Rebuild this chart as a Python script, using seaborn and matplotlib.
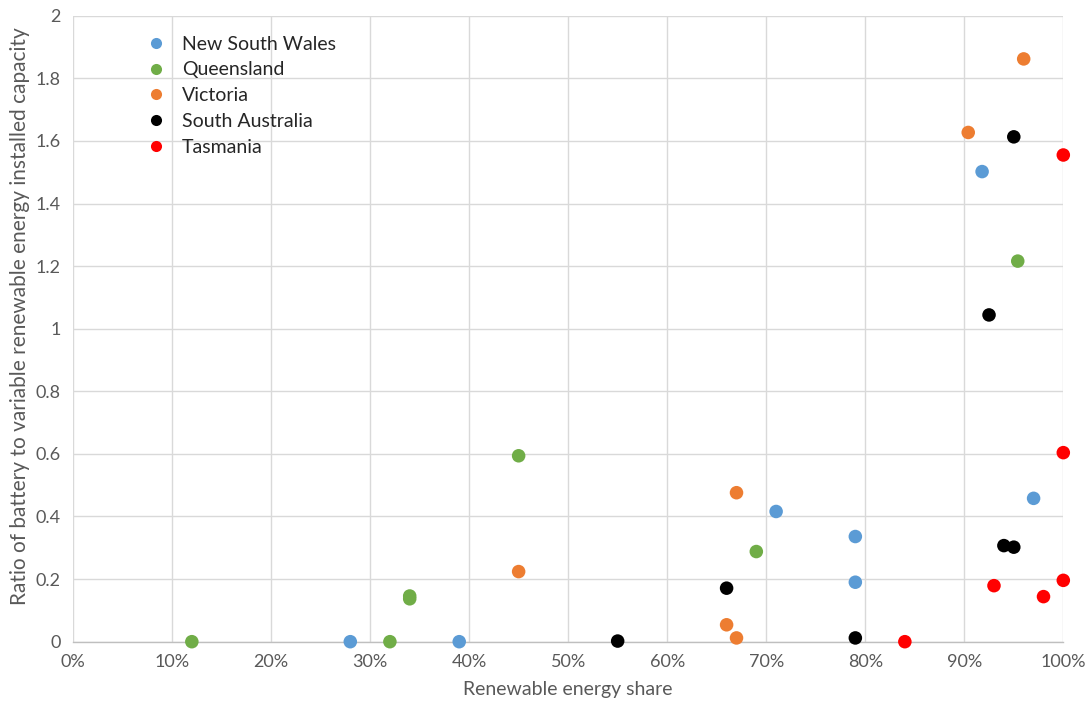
import matplotlib
matplotlib.use("Agg")
import matplotlib.pyplot as plt
import seaborn as sns
import pandas as pd
from matplotlib.lines import Line2D

# Renewable energy share (%) and battery-to-VRE capacity ratio per state
states = ["New South Wales", "Queensland", "Victoria", "South Australia", "Tasmania"]
colors = ["#5B9BD5", "#70AD47", "#ED7D31", "#000000", "#FF0000"]

nsw_share = [28, 39, 71, 79, 79, 91.8, 97]
nsw_ratio = [0.0, 0.0, 0.416, 0.336, 0.19, 1.502, 0.458]

qld_share = [12, 32, 34, 34, 45, 69, 95.4]
qld_ratio = [0.0, 0.0, 0.137, 0.146, 0.594, 0.288, 1.216]

vic_share = [45, 66, 67, 67, 90.4, 96]
vic_ratio = [0.224, 0.054, 0.012, 0.476, 1.627, 1.862]

sa_share = [55, 66, 79, 92.5, 94, 95, 95]
sa_ratio = [0.002, 0.171, 0.012, 1.044, 0.307, 0.302, 1.613]

tas_share = [84, 93, 98, 100, 100, 100]
tas_ratio = [0.0, 0.179, 0.144, 0.196, 0.604, 1.555]

x_ticks = [0, 10, 20, 30, 40, 50, 60, 70, 80, 90, 100]
x_tick_labels = [f"{t}%" for t in x_ticks]
y_ticks = [0, 0.2, 0.4, 0.6, 0.8, 1, 1.2, 1.4, 1.6, 1.8, 2]
y_tick_labels = ["0", "0.2", "0.4", "0.6", "0.8", "1", "1.2", "1.4", "1.6", "1.8", "2"]

frames = []
for name, xs, ys in zip(states,
                        [nsw_share, qld_share, vic_share, sa_share, tas_share],
                        [nsw_ratio, qld_ratio, vic_ratio, sa_ratio, tas_ratio]):
    frames.append(pd.DataFrame({"share": xs, "ratio": ys, "state": name}))
df = pd.concat(frames, ignore_index=True)

sns.set_theme(style="white")
plt.rcParams["font.family"] = ["Lato", "DejaVu Sans"]

fig = plt.figure(figsize=(10.88, 7.05), dpi=100)
ax = fig.add_axes([0.0671, 0.0898, 0.9102, 0.8879])

grid_c = "#D9D9D9"
text_c = "#595959"

sns.scatterplot(data=df, x="share", y="ratio", hue="state", hue_order=states,
                palette=dict(zip(states, colors)), s=95, linewidth=0,
                ax=ax, legend=False, clip_on=False, zorder=3)

ax.set_xlim(0, 100)
ax.set_ylim(0, 2)
ax.set_xticks(x_ticks)
ax.set_xticklabels(x_tick_labels)
ax.set_yticks(y_ticks)
ax.set_yticklabels(y_tick_labels)
ax.grid(True, color=grid_c, linewidth=1.0, zorder=0)
ax.set_axisbelow(True)
for side in ["top", "right", "left"]:
    ax.spines[side].set_visible(False)
ax.spines["bottom"].set_color("#BFBFBF")
ax.spines["bottom"].set_linewidth(1.0)
ax.tick_params(axis="both", length=0, labelsize=13, colors=text_c, pad=9)

ax.set_xlabel("Renewable energy share", fontsize=14, color=text_c, labelpad=8)
ax.set_ylabel("Ratio of battery to variable renewable energy installed capacity",
              fontsize=15, color=text_c, labelpad=4)
ax.yaxis.set_label_coords(-0.043, 0.52)

handles = [Line2D([], [], marker="o", linestyle="", markersize=8,
                  markerfacecolor=c, markeredgewidth=0) for c in colors]
ax.legend(handles, states, loc="upper left", bbox_to_anchor=(0.054, 0.996),
          frameon=False, fontsize=14, handletextpad=0.75, labelspacing=0.45,
          handlelength=1.2)

fig.savefig("out.png", dpi=100)
